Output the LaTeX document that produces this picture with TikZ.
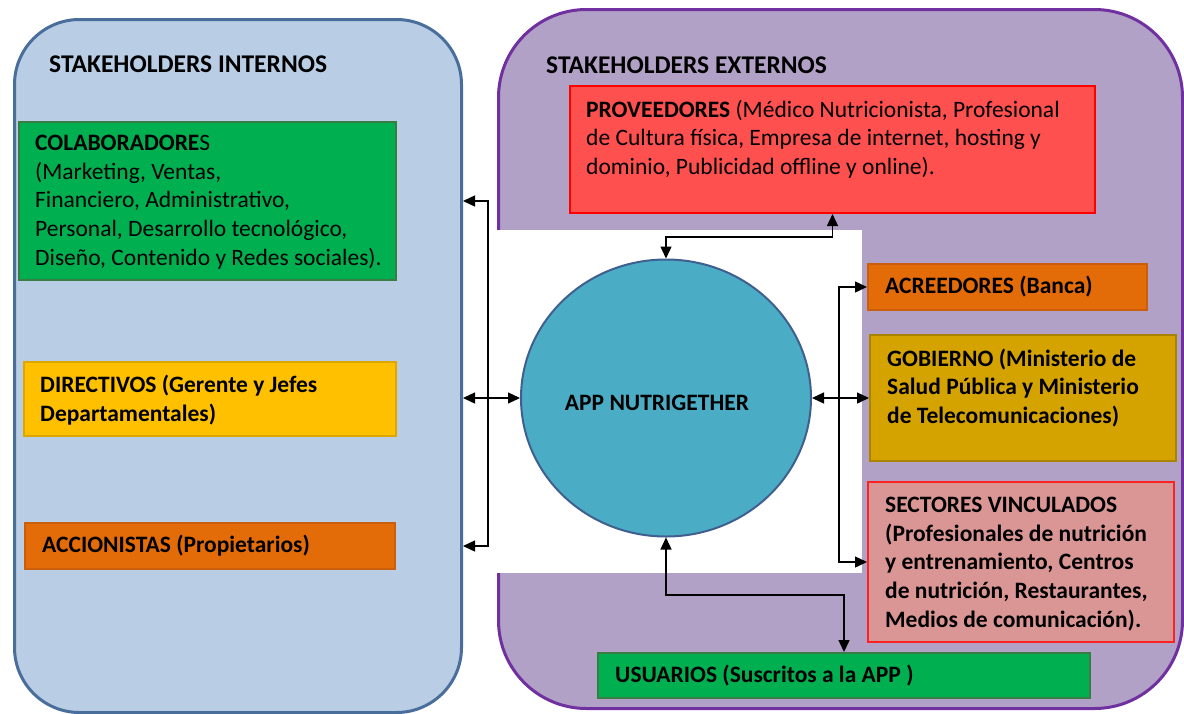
\documentclass[tikz,border=0pt]{standalone}
\usepackage{fontspec}
\setmainfont{Carlito}
\usetikzlibrary{arrows.meta,shapes.geometric}
\definecolor{leftfill}{HTML}{B9CDE5}
\definecolor{leftdraw}{HTML}{4A6E9B}
\definecolor{rightfill}{HTML}{B2A1C7}
\definecolor{rightdraw}{HTML}{7030A0}
\definecolor{grn}{HTML}{00B050}
\definecolor{grndraw}{HTML}{3A7D44}
\definecolor{gold}{HTML}{FFC000}
\definecolor{golddraw}{HTML}{DDA600}
\definecolor{orng}{HTML}{E36C09}
\definecolor{orngdraw}{HTML}{C95F0C}
\definecolor{dgold}{HTML}{D5A300}
\definecolor{dgolddraw}{HTML}{AA8300}
\definecolor{redf}{HTML}{FF5050}
\definecolor{redd}{HTML}{FF0000}
\definecolor{pinkf}{HTML}{DA9694}
\definecolor{pinkd}{HTML}{FF2222}
\definecolor{appf}{HTML}{4BACC6}
\definecolor{appd}{HTML}{3F5F8F}
\newcommand{\bodyfont}{\fontsize{23.5}{28.6}\selectfont}
\tikzset{
  panel/.style={line width=3pt, anchor=north west, inner sep=0pt},
  boxn/.style={line width=2pt, anchor=north west, inner sep=0pt, rectangle},
  txt/.style={inner sep=0pt, anchor=west, align=left, font=\bodyfont},
  btxt/.style={txt, font=\bodyfont\bfseries},
  ttl/.style={inner sep=0pt, anchor=west, font=\fontsize{25.5}{28}\selectfont\bfseries},
  arr/.style={line width=1.4pt, black, {Triangle[length=12pt,width=11pt]}-{Triangle[length=12pt,width=11pt]}},
}
\begin{document}
\begin{tikzpicture}[x=1pt,y=-1pt]
\useasboundingbox (0,0) rectangle (1184,713);
% panels
\node[panel, fill=leftfill, draw=leftdraw, rounded corners=65pt, minimum width=447pt, minimum height=693pt] (intpanel) at (13,18) {};
\node[panel, fill=rightfill, draw=rightdraw, rounded corners=88pt, minimum width=684pt, minimum height=699pt] (extpanel) at (497,8) {};
\fill[white] (490,230) rectangle (862,573);
% titles
\node[ttl] (tint) at (49,64) {STAKEHOLDERS INTERNOS};
\node[ttl] (text) at (546,65) {STAKEHOLDERS EXTERNOS};
% left boxes
\node[boxn, fill=grn, draw=grndraw, minimum width=377pt, minimum height=158pt] (colab) at (18,121) {};
\node[txt] (colabT) at (35,202) {\textbf{COLABORADORE}S\\(Marketing, Ventas,\\Financiero, Administrativo,\\Personal, Desarrollo tecnológico,\\Diseño, Contenido y Redes sociales).};
\node[boxn, fill=gold, draw=golddraw, minimum width=372pt, minimum height=74pt] (direct) at (23,361) {};
\node[btxt] (directT) at (40,400) {DIRECTIVOS (Gerente y Jefes\\Departamentales)};
\node[boxn, fill=orng, draw=orngdraw, minimum width=370pt, minimum height=46pt] (accion) at (24,522) {};
\node[btxt] (accionT) at (42,546) {ACCIONISTAS (Propietarios)};
% right boxes
\node[boxn, fill=redf, draw=redd, minimum width=525pt, minimum height=127pt] (prov) at (569,85) {};
\node[txt] (provT) at (586,139) {\textbf{PROVEEDORES} (Médico Nutricionista, Profesional\\de Cultura física, Empresa de internet, hosting y\\dominio, Publicidad offline y online).};
\node[boxn, fill=orng, draw=orngdraw, minimum width=279pt, minimum height=46pt] (acree) at (867,263) {};
\node[btxt] (acreeT) at (885,287) {ACREEDORES (Banca)};
\node[boxn, fill=dgold, draw=dgolddraw, minimum width=306pt, minimum height=126pt] (gob) at (869,334) {};
\node[btxt] (gobT) at (887,388) {GOBIERNO (Ministerio de\\Salud Pública y Ministerio\\de Telecomunicaciones)};
\node[boxn, fill=pinkf, draw=pinkd, minimum width=306pt, minimum height=160pt] (sect) at (867,481) {};
\node[btxt] (sectT) at (885,564) {SECTORES VINCULADOS\\(Profesionales de nutrición\\y entrenamiento, Centros\\de nutrición, Restaurantes,\\Medios de comunicación).};
\node[boxn, fill=grn, draw=grndraw, minimum width=492pt, minimum height=45pt] (usu) at (597,652) {};
\node[btxt] (usuT) at (615,676) {USUARIOS (Suscritos a la APP )};
% center
\node[ellipse, fill=appf, draw=appd, line width=2pt, minimum width=290pt, minimum height=277pt, inner sep=0pt,
  label={[name=appT, font=\bodyfont\bfseries, xshift=-9pt, yshift=-5pt]center:APP NUTRIGETHER}] (app) at (666,398) {};
% junction coordinates
\coordinate (lx) at (488,0);
\coordinate (rx) at (839,0);
\coordinate (tj) at (0,237);
\coordinate (bj) at (0,595);
% connectors
\draw[arr] (colab -| intpanel.east) -- (colab -| lx) -- (accion -| lx) -- (accion -| intpanel.east);
\draw[arr] (app.west -| intpanel.east) -- (app.west);
\draw[arr] (app.north) -- (app.north |- tj) -| (prov.south);
\draw[arr] (acree.west) -- (acree.west -| rx) -- (sect.west -| rx) -- (sect.west);
\draw[arr] (app.east) -- (app.east -| gob.west);
\draw[arr] (app.south) -- (app.south |- bj) -| (usu.north);
\end{tikzpicture}
\end{document}
